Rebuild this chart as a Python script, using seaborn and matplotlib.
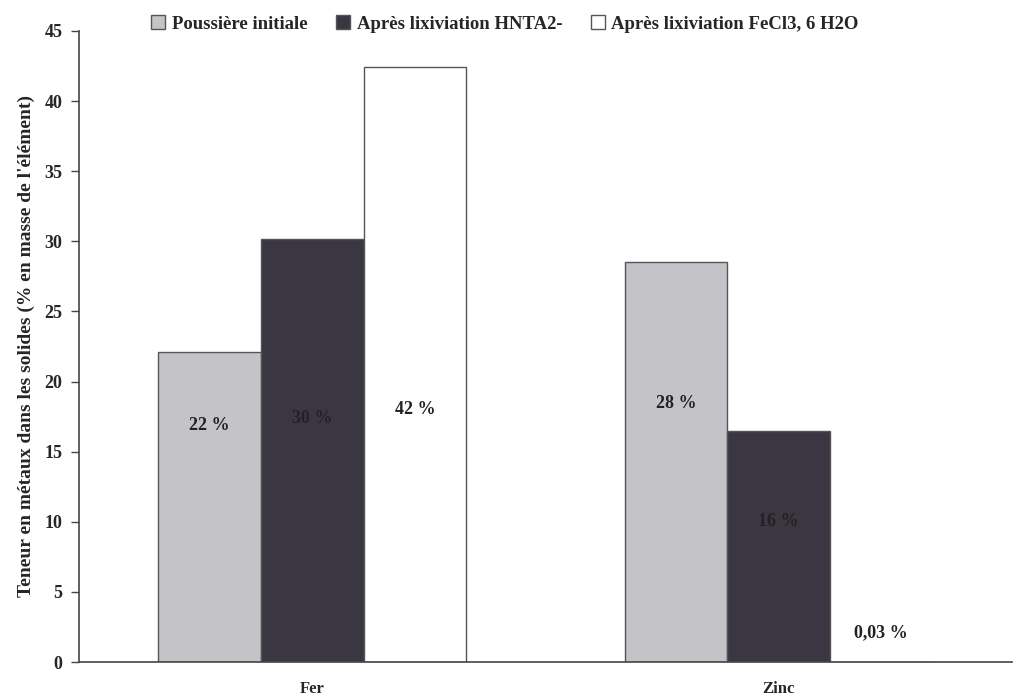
import matplotlib
matplotlib.use("Agg")
import matplotlib.pyplot as plt
import seaborn as sns
import pandas as pd

categories = ["Fer", "Zinc"]
series = ["Poussière initiale", "Après lixiviation HNTA2-", "Après lixiviation FeCl3, 6 H2O"]
poussiere = [22.1, 28.5]
hnta = [30.2, 16.5]
fecl3 = [42.4, 0.03]
value_labels = [["22 %", "28 %"], ["30 %", "16 %"], ["42 %", "0,03 %"]]
yticks = [0, 5, 10, 15, 20, 25, 30, 35, 40, 45]
ylabel = "Teneur en métaux dans les solides (% en masse de l'élément)"

rows = []
for s, vals in zip(series, [poussiere, hnta, fecl3]):
    for c, v in zip(categories, vals):
        rows.append({"Élément": c, "Série": s, "Valeur": v})
df = pd.DataFrame(rows)

sns.set_theme(style="white")
plt.rcParams["font.family"] = ["Liberation Serif", "DejaVu Serif"]
plt.rcParams["font.weight"] = "bold"

fig = plt.figure(figsize=(10.15, 6.99), dpi=100)
ax = fig.add_axes([0.0778, 0.0529, 0.9192, 0.9028])

colors = ["#c4c4c8", "#3b3742", "#ffffff"]
sns.barplot(data=df, x="Élément", y="Valeur", hue="Série", hue_order=series,
            order=categories, palette=colors, width=0.66, saturation=1,
            edgecolor="#555555", linewidth=1.0, ax=ax, legend=True)

# label positions (data units, inside bars)
label_y = [[16.9, 18.4], [17.4, 10.0], [18.0, 2.1]]
for i, cont in enumerate(ax.containers):
    for j, bar in enumerate(cont):
        xc = bar.get_x() + bar.get_width() / 2
        ax.text(xc, label_y[i][j], value_labels[i][j], ha="center", va="center",
                fontsize=13, fontweight="bold", color="#222222")

ax.set_xlim(-0.5, 1.5)
ax.set_ylim(0, 45)
ax.set_yticks(yticks)
ax.set_yticklabels([str(t) for t in yticks], fontsize=13, fontweight="bold")
ax.set_xticks([0, 1])
ax.set_xticklabels(categories, fontsize=12, fontweight="bold")
ax.tick_params(axis="x", length=0, pad=14)
ax.set_xticks([0.5], minor=True)
ax.tick_params(axis="x", which="minor", length=5, direction="out", color="#444444", width=1)
ax.tick_params(axis="y", length=6, direction="out", left=True, color="#444444", width=1, pad=6)
ax.set_xlabel("")
ax.set_ylabel(ylabel, fontsize=14, fontweight="bold", labelpad=7)

for side in ["top", "right"]:
    ax.spines[side].set_visible(False)
for side in ["left", "bottom"]:
    ax.spines[side].set_color("#444444")
    ax.spines[side].set_linewidth(1.2)

handles, labels = ax.get_legend_handles_labels()
ax.legend_.remove()
legend_x = [0.136, 0.318, 0.569]
for h, l, lx in zip(handles, labels, legend_x):
    fig.legend([h], [l], loc="upper left", bbox_to_anchor=(lx, 0.997),
               frameon=False, handlelength=0.75, handleheight=0.75,
               handletextpad=0.35, borderaxespad=0.3,
               prop={"weight": "bold", "size": 13.5})

fig.savefig("out.png", dpi=100)
